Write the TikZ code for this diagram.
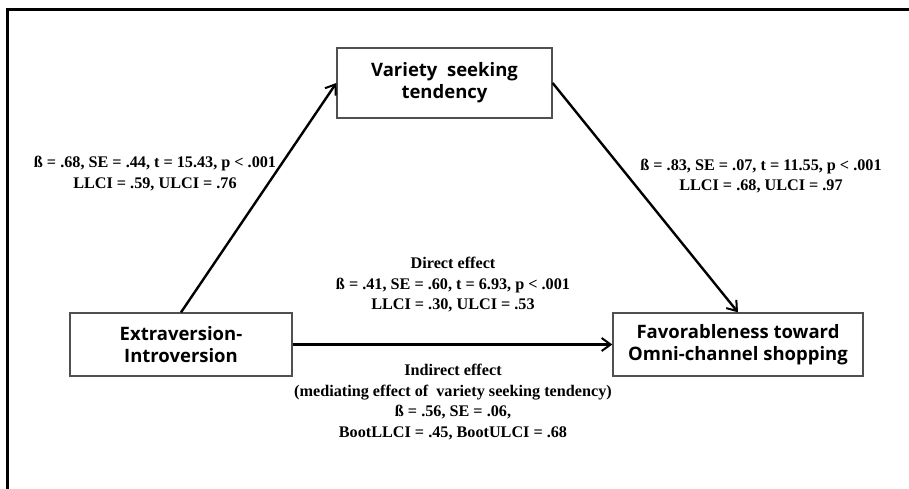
\documentclass[tikz,border=0pt]{standalone}
\usepackage{fontspec}
\setmainfont{Liberation Serif}
\newfontfamily\boxfont{Open Sans}
\usepackage{tikz}
\usetikzlibrary{positioning,arrows.meta}
\definecolor{borde}{RGB}{80,80,80}

\begin{document}
\begin{tikzpicture}[x=1pt,y=-1pt,
  var/.style={draw=borde, line width=1.3pt, fill=white, align=center,
              inner sep=0pt,
              font=\boxfont\bfseries\fontsize{18.5}{22}\selectfont},
  coef/.style={font=\bfseries\fontsize{16.2}{20.5}\selectfont, align=center},
  flecha/.style={-{Straight Barb[length=9pt,width=13pt,line width=2pt]},
                 line width=2.4pt}]
  \useasboundingbox (0,0) rectangle (909,489);
  \draw[line width=3pt] (7.5,489) -- (7.5,9.5) -- (909,9.5);
  \node[var, minimum width=215pt, minimum height=70pt] (vst) at (444.5,83)
     {Variety~~seeking\\tendency};
  \node[var, minimum width=222pt, minimum height=63pt] (ext) at (181,344.5)
     {Extraversion-\\Introversion};
  \node[var, minimum width=250pt, minimum height=63pt] (fav) at (738,344.5)
     {Favorableness toward\\Omni-channel shopping};
  \draw[flecha] (ext.north) -- (vst.west);
  \draw[flecha] (vst.east) -- (fav.north);
  \draw[flecha] (ext.east) -- (fav.west);
  \node[coef] (coefa) at (155,173.5)
     {ß = .68, SE = .44, t = 15.43, p < .001\\LLCI = .59, ULCI = .76};
  \node[coef] (coefb) at (761,176)
     {ß = .83, SE = .07, t = 11.55, p < .001\\LLCI = .68, ULCI = .97};
  \node[coef] (direct) at (453,285)
     {Direct effect\\ß = .41, SE = .60, t = 6.93, p < .001\\LLCI = .30, ULCI = .53};
  \node[coef] (indirect) at (453,402)
     {Indirect effect\\(mediating effect of~~variety seeking tendency)\\ß = .56, SE = .06,\\BootLLCI = .45, BootULCI = .68};
\end{tikzpicture}
\end{document}
